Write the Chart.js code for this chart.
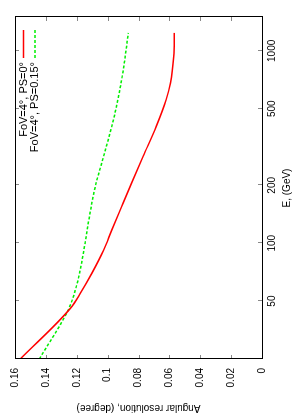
<!DOCTYPE html>
<html>
<head>
<meta charset="utf-8">
<script src="https://cdn.jsdelivr.net/npm/chart.js@4.4.0/dist/chart.umd.min.js"></script>
<style>
  html, body { margin: 0; padding: 0; background: #fff; overflow: hidden; }
  #wrap {
    position: absolute; left: 0; top: 0;
    width: 420px; height: 294px;
    transform-origin: 0 0;
    transform: translateY(420px) rotate(-90deg);
  }
</style>
</head>
<body>
<div id="wrap"><canvas id="resChart" width="420" height="294"></canvas></div>
<script>
// energies in GeV, resolution in degrees
const redEnergy = [25, 46, 55, 70, 92, 117, 155, 205, 283, 405, 557, 681, 937, 1240];
const redRes = [0.1566, 0.124, 0.1176, 0.1101, 0.1026, 0.0973, 0.0909, 0.0845, 0.077, 0.0685, 0.0621, 0.0593, 0.0572, 0.0568];
const greenEnergy = [25, 46, 62, 92, 132, 197, 283, 439, 681, 866, 1240];
const greenRes = [0.1442, 0.125, 0.1197, 0.1154, 0.1122, 0.108, 0.1026, 0.0962, 0.0913, 0.0892, 0.0866];
const energyTicks = [50, 100, 200, 500, 1000];
const resTicks = [0, 0.02, 0.04, 0.06, 0.08, 0.1, 0.12, 0.14, 0.16];
const seriesLabels = ["FoV=4\u00b0, PS=0\u00b0", "FoV=4\u00b0, PS=0.15\u00b0"];

const FONT = { family: "'Liberation Sans', Arial, sans-serif", size: 10 };

function toPoints(xs, ys) {
  return xs.map((x, i) => ({ x: x, y: ys[i] }));
}

// gnuplot-like frame, inward ticks and legend
const gnuplotFrame = {
  id: "gnuplotFrame",
  afterDraw(chart) {
    const ctx = chart.ctx;
    const a = chart.chartArea;
    const xs = chart.scales.x;
    const ys = chart.scales.y;
    ctx.save();
    ctx.strokeStyle = "#888";
    ctx.lineWidth = 1;
    ctx.beginPath();
    energyTicks.forEach((v) => {
      const px = Math.round(xs.getPixelForValue(v)) + 0.5;
      ctx.moveTo(px, a.bottom); ctx.lineTo(px, a.bottom - 4);
      ctx.moveTo(px, a.top); ctx.lineTo(px, a.top + 4);
    });
    resTicks.forEach((v) => {
      const py = Math.round(ys.getPixelForValue(v)) + 0.5;
      ctx.moveTo(a.left, py); ctx.lineTo(a.left + 4, py);
      ctx.moveTo(a.right, py); ctx.lineTo(a.right - 4, py);
    });
    ctx.stroke();

    ctx.strokeStyle = "#000";
    ctx.strokeRect(Math.round(a.left) + 0.5, Math.round(a.top) + 0.5,
      Math.round(a.right - a.left), Math.round(a.bottom - a.top));

    // legend, top right
    ctx.font = "11px " + FONT.family;
    ctx.textAlign = "right";
    ctx.textBaseline = "middle";
    ctx.fillStyle = "#000";
    chart.data.datasets.forEach((ds, i) => {
      const y = a.top + 8.5 + i * 11.5;
      ctx.fillText(ds.label, a.right - 45, y);
      ctx.strokeStyle = ds.borderColor;
      ctx.lineWidth = ds.borderWidth;
      ctx.setLineDash(ds.borderDash || []);
      ctx.beginPath();
      ctx.moveTo(a.right - 41, y);
      ctx.lineTo(a.right - 13, y);
      ctx.stroke();
    });
    ctx.restore();
  },
};

const ctx = document.getElementById("resChart").getContext("2d");
const resChart = new Chart(ctx, {
  type: "scatter",
  data: {
    datasets: [
      {
        label: seriesLabels[0],
        data: toPoints(redEnergy, redRes),
        showLine: true,
        borderColor: "#ff0000",
        borderWidth: 1.5,
        pointRadius: 0,
        cubicInterpolationMode: "monotone",
      },
      {
        label: seriesLabels[1],
        data: toPoints(greenEnergy, greenRes),
        showLine: true,
        borderColor: "#00ee00",
        borderWidth: 1.5,
        borderDash: [3, 2],
        pointRadius: 0,
        cubicInterpolationMode: "monotone",
      },
    ],
  },
  options: {
    responsive: false,
    animation: false,
    layout: { padding: { left: 0, right: 17, top: 12, bottom: 0 } },
    plugins: { legend: { display: false }, tooltip: { enabled: false } },
    scales: {
      x: {
        type: "logarithmic",
        min: 25,
        max: 1500,
        afterBuildTicks(scale) {
          scale.ticks = energyTicks.map((v) => ({ value: v }));
        },
        afterFit(scale) { scale.height = 32; },
        grid: { display: false, drawTicks: false },
        border: { display: false },
        ticks: {
          color: "#000",
          font: FONT,
          padding: 4,
          maxRotation: 0,
          autoSkip: false,
          callback: (v) => String(v),
        },
        title: {
          display: true,
          text: "E, (GeV)",
          color: "#000",
          font: FONT,
          padding: { top: 0, bottom: 1 },
        },
      },
      y: {
        min: 0,
        max: 0.16,
        afterBuildTicks(scale) {
          scale.ticks = resTicks.map((v) => ({ value: v }));
        },
        afterFit(scale) { scale.width = 61; },
        grid: { display: false, drawTicks: false },
        border: { display: false },
        ticks: {
          color: "#000",
          font: FONT,
          padding: 9,
          callback: (v) => String(Number(v.toFixed(2))),
        },
        title: {
          display: true,
          text: "Angular resolution, (degree)",
          color: "#000",
          font: FONT,
          padding: { top: 6, bottom: 0 },
        },
      },
    },
  },
  plugins: [gnuplotFrame],
});
</script>
</body>
</html>
